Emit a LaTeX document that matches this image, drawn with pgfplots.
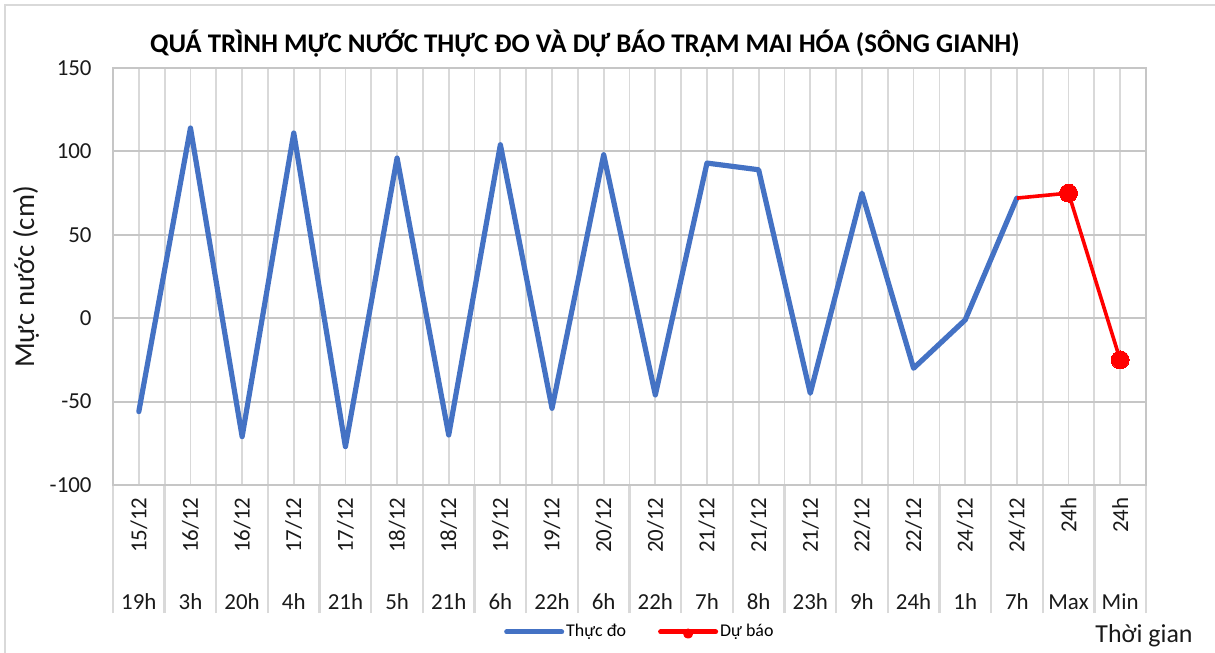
\documentclass[border=0pt]{standalone}
\usepackage{fontspec}
\setmainfont{Carlito}
\usepackage{pgfplots}
\pgfplotsset{compat=1.18}
\definecolor{blueS}{HTML}{4472C4}
\definecolor{redS}{HTML}{FF0000}
\definecolor{gridV}{HTML}{D9D9D9}
\definecolor{gridH}{HTML}{C6C6C6}
\definecolor{txt}{HTML}{1A1A1A}
\newcommand\xl[2]{\vbox to 56bp{\hbox to 22bp{\hss\rotatebox{90}{#1}\hss}\vss\hbox to 22bp{\hss\strut #2\hss}}}
\begin{document}
\begin{tikzpicture}
\useasboundingbox (-56.5bp,-84bp) rectangle (551bp,242.5bp);
\draw[gridV, line width=1.2bp] (-54bp,-90bp) -- (-54bp,240bp) -- (560bp,240bp);
\begin{axis}[
  at={(0bp,0bp)}, anchor=south west, scale only axis,
  width=516.5bp, height=208.5bp,
  xmin=-0.5, xmax=19.5, ymin=-100, ymax=150,
  ytick={-100,-50,...,150},
  extra y ticks={-50,0,50,100},
  extra y tick labels={},
  extra y tick style={grid=major, major grid style={gridH, line width=0.9bp}},
  xtick={0,...,19},
  xticklabels={\xl{15/12}{19h},\xl{16/12}{3h},\xl{16/12}{20h},\xl{17/12}{4h},\xl{17/12}{21h},\xl{18/12}{5h},\xl{18/12}{21h},\xl{19/12}{6h},\xl{19/12}{22h},\xl{20/12}{6h},\xl{20/12}{22h},\xl{21/12}{7h},\xl{21/12}{8h},\xl{21/12}{23h},\xl{22/12}{9h},\xl{22/12}{24h},\xl{24/12}{1h},\xl{24/12}{7h},\xl{24h}{Max},\xl{24h}{Min}},
  minor xtick={-0.5,0.5,...,19.5},
  xmajorgrids, xminorgrids,
  major grid style={gridV, line width=0.9bp},
  minor grid style={gridV, line width=0.9bp},
  xtick pos=bottom, ytick pos=left,
  tick align=outside,
  major tick length=0pt,
  minor tick length=64bp,
  minor tick style={gridV, line width=1.2bp},
  axis line style={gridH, line width=0.9bp},
  xticklabel style={anchor=north, inner sep=0pt, yshift=-6bp, font=\fontsize{11.5}{13}\selectfont, text=txt},
  yticklabel style={anchor=east, inner sep=0pt, xshift=-10.5bp, font=\fontsize{11.5}{13}\selectfont, text=txt},
  /pgf/number format/assume math mode=true,
  legend style={at={(axis description cs:0.51,-0.3525)}, anchor=center, draw=none, fill=none,
    legend columns=2, font=\fontsize{9}{11}\selectfont,
    /tikz/every even column/.append style={column sep=15bp},
    inner sep=0pt, nodes={inner sep=1bp}},
]
\addplot[blueS, line width=2.6bp, line join=round, line cap=round,
  legend image code/.code={\draw[blueS, line width=2.5bp, line cap=round] (0bp,0bp) -- (27.5bp,0bp);}]
  coordinates {(0,-56) (1,114) (2,-71) (3,111) (4,-77) (5,96) (6,-70) (7,104) (8,-54)
    (9,98) (10,-46) (11,93) (12,89) (13,-45) (14,75) (15,-30) (16,-1) (17,72)};
\addlegendentry{Thực đo}
\addplot[redS, line width=1.8bp, line join=round, mark=*, mark size=4.5bp, mark indices={2,3},
  mark options={solid, fill=redS, draw=redS, line width=0pt},
  legend image code/.code={\draw[redS, line width=2.5bp, line cap=round] (0bp,0bp) -- (27.5bp,0bp); \fill[redS] (13.75bp,-0.8bp) circle (1.6bp);}]
  coordinates {(17,72) (18,75) (19,-25)};
\addlegendentry{Dự báo}
\end{axis}
\node[anchor=base, font=\bfseries\fontsize{13.5}{16}\selectfont, inner sep=0pt] at (236bp,216bp)
  {QUÁ TRÌNH MỰC NƯỚC THỰC ĐO VÀ DỰ BÁO TRẠM MAI HÓA (SÔNG GIANH)};
\node[rotate=90, anchor=center, font=\fontsize{14.5}{17}\selectfont, inner sep=0pt, text=txt] at (-43.5bp,104bp) {Mực nước (cm)};
\node[anchor=base, font=\fontsize{13}{15}\selectfont, inner sep=0pt, text=txt] at (515.5bp,-78.5bp) {Thời gian};
\end{tikzpicture}
\end{document}
